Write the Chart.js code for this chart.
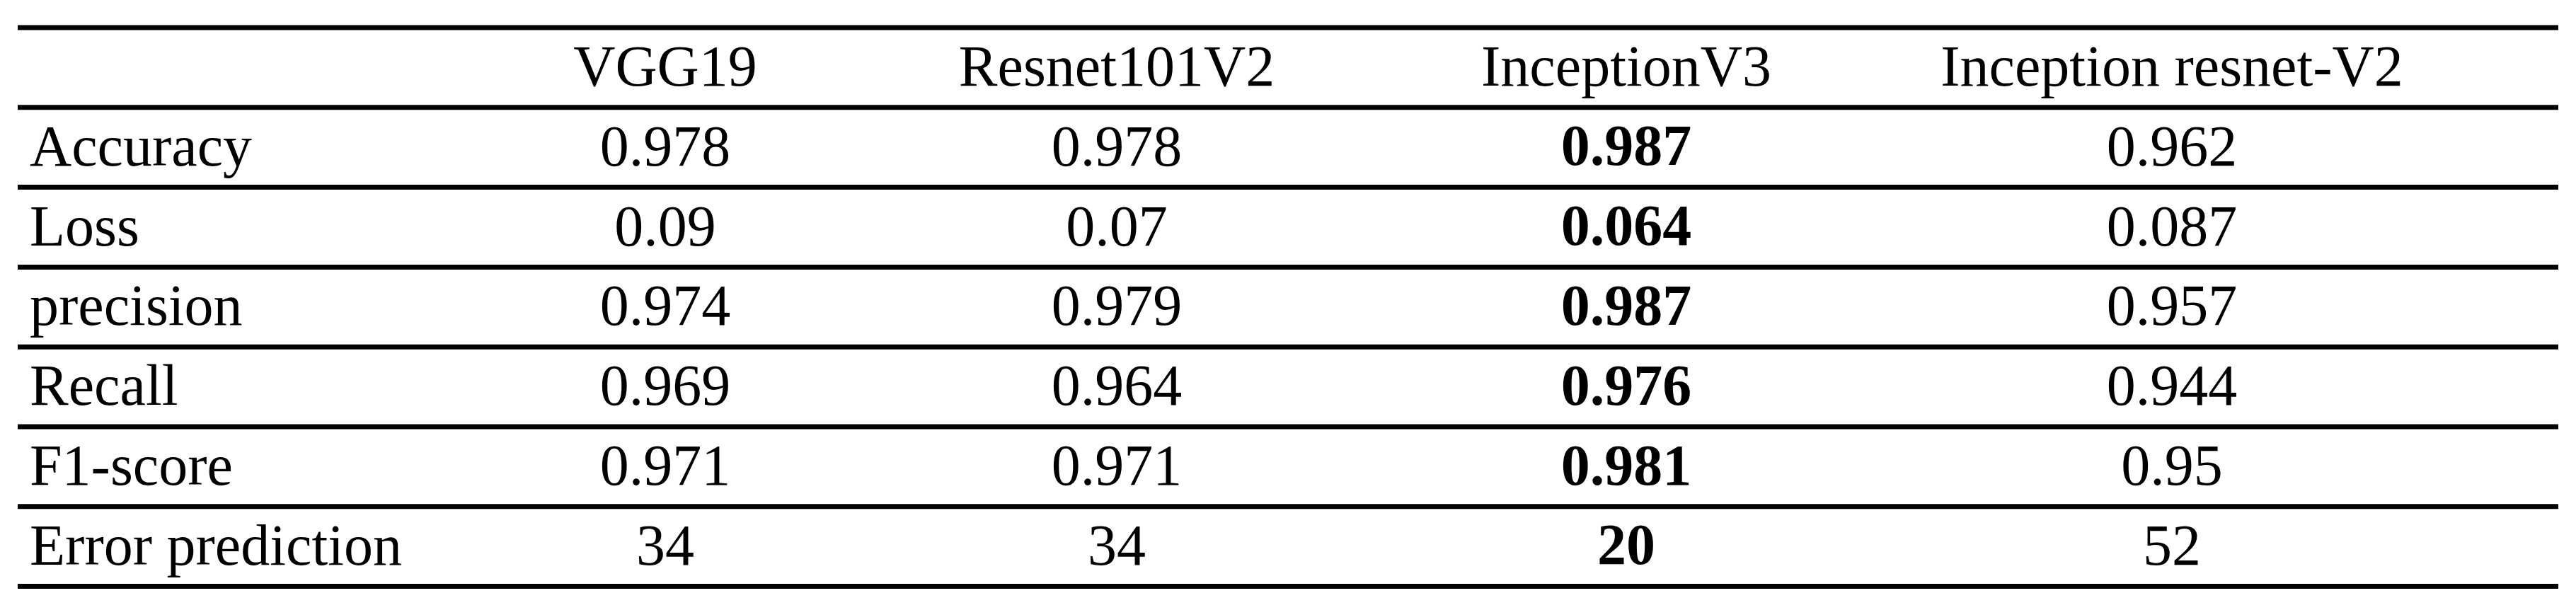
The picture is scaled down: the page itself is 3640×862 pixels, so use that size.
<!DOCTYPE html>
<html><head><meta charset="utf-8">
<script src="https://cdn.jsdelivr.net/npm/chart.js@4"></script>
<style>html,body{margin:0;padding:0;background:#fff}#w{width:3640px;height:862px}</style>
</head><body><div id="w"><canvas id="c"></canvas></div>
<script>
const models = ["VGG19","Resnet101V2","InceptionV3","Inception resnet-V2"];
const metrics = ["Accuracy","Loss","precision","Recall","F1-score","Error prediction"];
const vgg19 = ["0.978","0.09","0.974","0.969","0.971","34"];
const resnet101v2 = ["0.978","0.07","0.979","0.964","0.971","34"];
const inceptionv3 = ["0.987","0.064","0.987","0.976","0.981","20"];
const inceptionResnetV2 = ["0.962","0.087","0.957","0.944","0.95","52"];
const bestModel = "InceptionV3";

const columns = [vgg19, resnet101v2, inceptionv3, inceptionResnetV2];
// layout (pixels in a 3640x862 frame)
const colX = [940, 1578, 2298, 3069];
const labelX = 42, tLeft = 25, tRight = 3615, tTop = 39, rowH = 112.8;
const font = "'Liberation Serif', 'Times New Roman', serif";

const points = [];
columns.forEach((col, ci) => col.forEach((v, ri) => points.push({x: colX[ci], y: tTop + rowH * (ri + 1.5), t: v, b: models[ci] === bestModel})));

const tablePlugin = {
  id: 'table',
  afterDatasetsDraw(chart) {
    const ctx = chart.ctx, xs = chart.scales.x, ys = chart.scales.y;
    ctx.save();
    ctx.strokeStyle = '#000'; ctx.lineWidth = 7;
    for (let i = 0; i <= metrics.length + 1; i++) {
      const y = ys.getPixelForValue(tTop + rowH * i);
      ctx.beginPath(); ctx.moveTo(xs.getPixelForValue(tLeft), y); ctx.lineTo(xs.getPixelForValue(tRight), y); ctx.stroke();
    }
    ctx.fillStyle = '#000'; ctx.textBaseline = 'middle';
    ctx.font = `82px ${font}`; ctx.textAlign = 'center';
    models.forEach((m, i) => ctx.fillText(m, xs.getPixelForValue(colX[i]), ys.getPixelForValue(tTop + rowH * 0.5 + 4)));
    ctx.textAlign = 'left';
    metrics.forEach((m, i) => ctx.fillText(m, xs.getPixelForValue(labelX), ys.getPixelForValue(tTop + rowH * (i + 1.5) + 4)));
    ctx.textAlign = 'center';
    chart.data.datasets[0].data.forEach(p => {
      ctx.font = `${p.b ? 'bold ' : ''}82px ${font}`;
      ctx.fillText(p.t, xs.getPixelForValue(p.x), ys.getPixelForValue(p.y + 4));
    });
    ctx.restore();
  }
};

new Chart(document.getElementById('c'), {
  type: 'scatter',
  data: { datasets: [{ data: points, pointRadius: 0, pointHoverRadius: 0 }] },
  options: {
    responsive: true, maintainAspectRatio: false, animation: false,
    layout: { padding: 0 },
    plugins: { legend: { display: false }, tooltip: { enabled: false } },
    scales: {
      x: { type: 'linear', min: 0, max: 3640, display: false },
      y: { type: 'linear', min: 0, max: 862, reverse: true, display: false }
    }
  },
  plugins: [tablePlugin]
});
</script></body></html>
